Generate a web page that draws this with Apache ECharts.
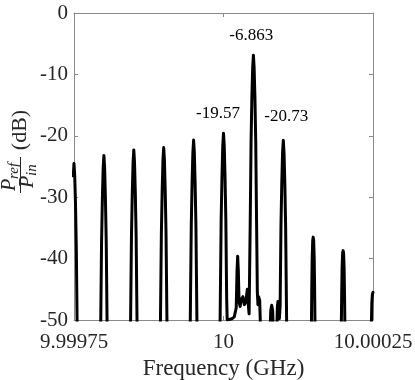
<!DOCTYPE html>
<html>
<head>
<meta charset="utf-8">
<script src="https://cdn.jsdelivr.net/npm/echarts@6/dist/echarts.min.js"></script>
<style>
  html, body { margin: 0; padding: 0; background: #fff; }
  #chart { width: 415px; height: 380px; }
</style>
</head>
<body>
<div id="chart"></div>
<script>
// frequency as offset from 10 GHz, in kHz (axis runs 9.99975 .. 10.00025 GHz)
var freqOffsetKHz = [
  -251.2, -250, -248.8, -247.5, -246.1, -244.7, -244,
  -225,
  -206.3, -205.3, -203.9, -202.5, -201.2, -200, -198.8, -197.5, -196.1, -194.7, -193.7,
  -175,
  -156.5, -155.3, -153.9, -152.5, -151.2, -150, -148.8, -147.5, -146.1, -144.7, -143.5,
  -125,
  -106.5, -105.3, -103.9, -102.5, -101.2, -100, -98.8, -97.5, -96.1, -94.7, -93.5,
  -75,
  -56.6, -55.3, -53.9, -52.5, -51.2, -50, -48.8, -47.5, -46.1, -44.7, -43.4,
  -25,
  -6.7, -5.3, -3.9, -2.5, -1.2, 0, 1.2, 2.5, 3.9, 5.3,
  6.2, 9, 14, 18, 20, 21.3, 22.6, 23.7, 24.8, 26, 27.8, 30, 32.5, 35, 37.5, 39.8, 41.5, 42.8,
  44.7, 46.1, 47.5, 48.8, 50, 51.2, 52.5, 53.9, 55.3, 56.6, 57.6, 58.7, 60.5, 61.6, 62.6,
  70,
  77.2, 79, 80.6, 82.2, 84,
  86.5,
  88.8, 90, 91, 92.2, 93.4,
  94.7, 96.1, 97.5, 98.8, 100, 101.2, 102.5, 103.9, 105.3, 106.6,
  125,
  146.3, 147, 147.6, 148.3, 149.2, 150, 150.8, 151.7, 152.4, 153, 153.7,
  175,
  196.3, 197, 197.6, 198.3, 199.2, 200, 200.8, 201.7, 202.4, 203, 203.7,
  225,
  246.4, 247.2, 248, 249, 250, 251
];
var powerDb = [
  -26.5, -24.5, -26.5, -31, -38.5, -51.5, -60,
  -120,
  -60, -50.2, -37.2, -30, -25.2, -23.2, -25.2, -30, -37.2, -50.2, -60,
  -120,
  -60, -49.3, -36.3, -29.1, -24.3, -22.3, -24.3, -29.1, -36.3, -49.3, -60,
  -120,
  -60, -48.9, -35.9, -28.7, -23.9, -21.9, -23.9, -28.7, -35.9, -48.9, -60,
  -120,
  -60, -47.7, -34.7, -27.5, -22.7, -20.7, -22.7, -27.5, -34.7, -47.7, -60,
  -120,
  -60, -46.6, -33.6, -26.4, -21.6, -19.57, -21.6, -26.4, -33.6, -46.6,
  -50, -49.9, -49.8, -49.5, -49.2, -48, -42, -39.6, -42, -47, -47.8, -46.6, -46.2, -47.5, -47, -45, -47.5, -49,
  -33.9, -20.9, -13.5, -8.9, -6.863, -8.9, -13.5, -20.9, -33.9, -45.5, -47.5, -46.2, -46.8, -50.5, -60,
  -100,
  -54, -48.5, -47.6, -48.5, -54,
  -70,
  -53, -48, -47, -48.5, -49.8,
  -47.7, -34.7, -27.5, -22.7, -20.73, -22.7, -27.5, -34.7, -47.7, -60,
  -120,
  -60, -51, -45, -40, -37, -36.5, -37, -40, -45, -51, -60,
  -120,
  -60, -51, -46, -41.5, -39.1, -38.7, -39.1, -41.5, -46, -51, -60,
  -120,
  -60, -51, -47.3, -45.8, -45.5, -45.8
];

var xTickValues = [-250, 0, 250];
var xTickLabels = ['9.99975', '10', '10.00025'];

// peak annotations
var noteText = ['-6.863', '-19.57', '-20.73'];
var noteX = [46.5, -9.2, 104.8];
var noteY = [-3.6, -16.3, -16.8];

var serif = "'Liberation Serif', 'DejaVu Serif', serif";
var frameColor = '#8a8a8a';
var textColor = '#262626';

var points = freqOffsetKHz.map(function (f, i) { return [f, powerDb[i]]; });
var notes = noteText.map(function (t, i) { return { name: t, coord: [noteX[i], noteY[i]] }; });

var chart = echarts.init(document.getElementById('chart'));

function frameAxis(extra) {
  return Object.assign({
    axisLine: { show: true, onZero: false, lineStyle: { color: frameColor, width: 1 } },
    axisTick: { show: true, inside: true, length: 4, lineStyle: { color: frameColor } },
    splitLine: { show: false }
  }, extra);
}

var option = {
  animation: false,
  grid: { left: 74, right: 42, top: 13, bottom: 60, containLabel: false, outerBoundsMode: 'none' },
  xAxis: [
    frameAxis({
      type: 'value', min: -250, max: 250, interval: 250, position: 'bottom',
      axisLabel: {
        margin: 12, fontFamily: serif, fontSize: 21, color: textColor,
        formatter: function (v) {
          var i = xTickValues.indexOf(v);
          return i >= 0 ? xTickLabels[i] : '';
        }
      },
      name: 'Frequency (GHz)', nameLocation: 'middle', nameGap: 31,
      nameTextStyle: { fontFamily: serif, fontSize: 23, color: textColor }
    }),
    frameAxis({
      type: 'value', min: -250, max: 250, interval: 250, position: 'top',
      axisLabel: { show: false }
    })
  ],
  yAxis: [
    frameAxis({
      type: 'value', min: -50, max: 0, interval: 10, position: 'left',
      axisLabel: { margin: 6, fontFamily: serif, fontSize: 21, color: textColor }
    }),
    frameAxis({
      type: 'value', min: -50, max: 0, interval: 10, position: 'right',
      axisLabel: { show: false }
    })
  ],
  series: [{
    type: 'line',
    data: points,
    showSymbol: false,
    clip: true,
    lineStyle: { color: '#000', width: 3, join: 'round', cap: 'round' },
    markPoint: {
      symbol: 'circle',
      symbolSize: 0,
      label: {
        show: true, position: 'inside', formatter: '{b}',
        fontFamily: serif, fontSize: 17, color: '#000'
      },
      data: notes
    }
  }],
  graphic: [{
    type: 'group',
    x: 20.5, y: 152,
    rotation: Math.PI / 2,
    children: [
      { type: 'text', style: { text: '(dB)', x: 22, y: 0, textAlign: 'center', textVerticalAlign: 'middle', font: '22px ' + serif, fill: textColor } },
      { type: 'rect', shape: { x: -41, y: -0.5, width: 36, height: 1 }, style: { fill: textColor } },
      { type: 'text', style: { text: 'P', x: -39, y: -10.5, textAlign: 'left', textVerticalAlign: 'middle', font: 'italic 20px ' + serif, fill: textColor } },
      { type: 'text', style: { text: 'ref', x: -27, y: -6.3, textAlign: 'left', textVerticalAlign: 'middle', font: 'italic 15px ' + serif, fill: textColor } },
      { type: 'text', style: { text: 'P', x: -36, y: 7.2, textAlign: 'left', textVerticalAlign: 'middle', font: 'italic 20px ' + serif, fill: textColor } },
      { type: 'text', style: { text: 'in', x: -24, y: 11.5, textAlign: 'left', textVerticalAlign: 'middle', font: 'italic 15px ' + serif, fill: textColor } }
    ]
  }]
};

chart.setOption(option);
</script>
</body>
</html>
